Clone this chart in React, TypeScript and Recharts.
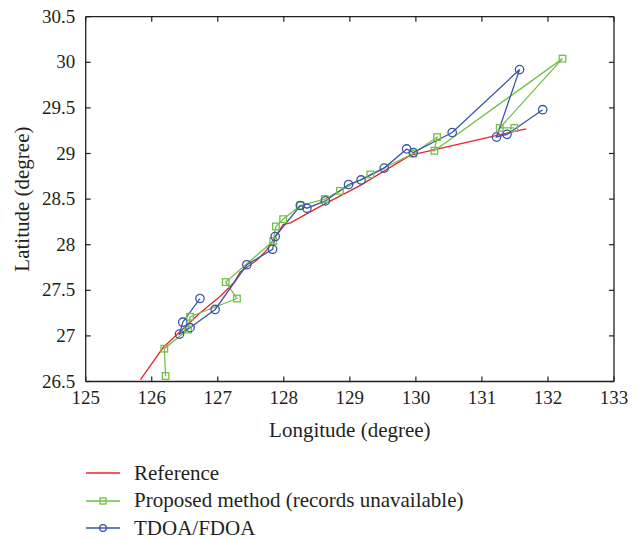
import React from 'react';
import { LineChart, Line, XAxis, YAxis, Legend } from 'recharts';

const lonTicks = [125, 126, 127, 128, 129, 130, 131, 132, 133];
const latTicks = [26.5, 27, 27.5, 28, 28.5, 29, 29.5, 30, 30.5];

const refLon = [125.83, 126.17, 126.73, 127.03, 127.24, 127.34, 127.59, 127.74, 127.99, 128.1, 128.55, 129.16, 129.91, 131.23, 131.67];
const refLat = [26.52, 26.87, 27.25, 27.43, 27.58, 27.7, 27.83, 27.94, 28.22, 28.24, 28.42, 28.65, 28.98, 29.2, 29.27];

const propLon = [126.21, 126.19, 126.55, 126.58, 127.29, 127.12, 127.84, 127.88, 127.99, 128.25, 128.62, 128.85, 129.31, 129.96, 130.32, 130.28, 132.22, 131.27, 131.49];
const propLat = [26.56, 26.86, 27.07, 27.21, 27.41, 27.59, 28.04, 28.2, 28.28, 28.43, 28.5, 28.59, 28.77, 29.0, 29.18, 29.03, 30.04, 29.28, 29.28];

const tdoaLon = [126.73, 126.47, 126.42, 126.58, 126.96, 127.44, 127.83, 127.87, 128.25, 128.35, 128.63, 128.98, 129.17, 129.52, 129.86, 129.96, 130.55, 131.57, 131.22, 131.38, 131.92];
const tdoaLat = [27.41, 27.15, 27.02, 27.09, 27.29, 27.78, 27.95, 28.09, 28.43, 28.4, 28.48, 28.66, 28.71, 28.84, 29.05, 29.01, 29.23, 29.92, 29.18, 29.21, 29.48];

const seriesNames = ['Reference', 'Proposed method (records unavailable)', 'TDOA/FDOA'];

const RED = '#ea2529';
const GREEN = '#72c04a';
const BLUE = '#3a55a6';
const INK = '#231f20';
const FONT = "'Liberation Serif', 'DejaVu Serif', serif";

const toPoints = (xs: number[], ys: number[]) => xs.map((x, i) => ({ lon: x, lat: ys[i] }));
const refData = toPoints(refLon, refLat);
const propData = toPoints(propLon, propLat);
const tdoaData = toPoints(tdoaLon, tdoaLat);

const TICK_LEN = 5;
const tickTextStyle = { fontFamily: FONT, fontSize: 19, fill: INK };

const BottomTick = (p: any) => (
  <g>
    <line x1={p.x} y1={p.y} x2={p.x} y2={p.y - TICK_LEN} stroke={INK} strokeWidth={1.2} />
    <text x={p.x} y={p.y + 22.5} textAnchor="middle" fontFamily={FONT} fontSize={19} fill={INK} style={tickTextStyle}>
      {String(p.payload.value)}
    </text>
  </g>
);
const TopTick = (p: any) => (
  <line x1={p.x} y1={p.y} x2={p.x} y2={p.y + TICK_LEN} stroke={INK} strokeWidth={1.2} />
);
const LeftTick = (p: any) => (
  <g>
    <line x1={p.x} y1={p.y} x2={p.x + TICK_LEN} y2={p.y} stroke={INK} strokeWidth={1.2} />
    <text x={p.x - 10.5} y={p.y + 6} textAnchor="end" fontFamily={FONT} fontSize={19} fill={INK} style={tickTextStyle}>
      {String(p.payload.value)}
    </text>
  </g>
);
const RightTick = (p: any) => (
  <line x1={p.x} y1={p.y} x2={p.x - TICK_LEN} y2={p.y} stroke={INK} strokeWidth={1.2} />
);

const SquareDot = (p: any) => (
  <rect key={`sq-${p.index}`} x={p.cx - 3.3} y={p.cy - 3.3} width={6.6} height={6.6} fill="none" stroke={GREEN} strokeWidth={1.3} />
);
const CircleDot = (p: any) => (
  <circle key={`ci-${p.index}`} cx={p.cx} cy={p.cy} r={4.2} fill="none" stroke={BLUE} strokeWidth={1.3} />
);

const legendRows = [
  { name: seriesNames[0], color: RED, marker: 'none' },
  { name: seriesNames[1], color: GREEN, marker: 'square' },
  { name: seriesNames[2], color: BLUE, marker: 'circle' },
];

const LegendContent = () => (
  <div style={{ fontFamily: FONT, fontSize: 21, color: INK }}>
    {legendRows.map((r) => (
      <div key={r.name} style={{ height: 27.5, display: 'flex', alignItems: 'center' }}>
        <svg width={48} height={20} style={{ display: 'block' }}>
          <line x1={0} y1={10} x2={34} y2={10} stroke={r.color} strokeWidth={1.3} />
          {r.marker === 'square' && <rect x={14} y={7} width={6} height={6} fill="none" stroke={r.color} strokeWidth={1.3} />}
          {r.marker === 'circle' && <circle cx={17} cy={10} r={3.3} fill="none" stroke={r.color} strokeWidth={1.3} />}
        </svg>
        <span style={{ whiteSpace: 'nowrap', lineHeight: '27px' }}>{r.name}</span>
      </div>
    ))}
  </div>
);

export default function App() {
  return (
    <div style={{ marginTop: -8, width: 627, height: 540, fontFamily: FONT }}>
      <LineChart
        width={627}
        height={540}
        margin={{ top: 15.7, right: 20, bottom: 98.5, left: 0 }}
        style={{ fontFamily: FONT }}
      >
        <XAxis
          xAxisId="b"
          dataKey="lon"
          type="number"
          domain={[125, 133]}
          ticks={lonTicks}
          allowDataOverflow
          height={60}
          tickSize={0}
          tickMargin={0}
          tick={<BottomTick />}
          axisLine={{ stroke: INK, strokeWidth: 1.3 }}
          tickLine={false}
          label={{ value: 'Longitude (degree)', position: 'insideBottom', offset: 4.5, style: { fontFamily: FONT, fontSize: 21, fill: INK } }}
        />
        <XAxis
          xAxisId="t"
          dataKey="lon"
          type="number"
          orientation="top"
          domain={[125, 133]}
          ticks={lonTicks}
          allowDataOverflow
          height={1}
          tickSize={0}
          tickMargin={0}
          tick={<TopTick />}
          axisLine={{ stroke: INK, strokeWidth: 1.3 }}
          tickLine={false}
        />
        <YAxis
          yAxisId="l"
          type="number"
          domain={[26.5, 30.5]}
          ticks={latTicks}
          allowDataOverflow
          width={77.7}
          tickSize={0}
          tickMargin={0}
          tick={<LeftTick />}
          axisLine={{ stroke: INK, strokeWidth: 1.3 }}
          tickLine={false}
          label={{ value: 'Latitude (degree)', angle: -90, position: 'insideLeft', offset: 14, style: { fontFamily: FONT, fontSize: 21, fill: INK, textAnchor: 'middle' } }}
        />
        <YAxis
          yAxisId="r"
          type="number"
          orientation="right"
          domain={[26.5, 30.5]}
          ticks={latTicks}
          allowDataOverflow
          width={1}
          tickSize={0}
          tickMargin={0}
          tick={<RightTick />}
          axisLine={{ stroke: INK, strokeWidth: 1.3 }}
          tickLine={false}
        />
        <Line
          xAxisId="b"
          yAxisId="l"
          data={refData}
          dataKey="lat"
          name={seriesNames[0]}
          stroke={RED}
          strokeWidth={1.3}
          dot={false}
          activeDot={false}
          isAnimationActive={false}
          type="linear"
        />
        <Line
          xAxisId="t"
          yAxisId="r"
          data={propData}
          dataKey="lat"
          name={seriesNames[1]}
          stroke={GREEN}
          strokeWidth={1.3}
          dot={SquareDot}
          activeDot={false}
          isAnimationActive={false}
          type="linear"
        />
        <Line
          xAxisId="b"
          yAxisId="l"
          data={tdoaData}
          dataKey="lat"
          name={seriesNames[2]}
          stroke={BLUE}
          strokeWidth={1.3}
          dot={CircleDot}
          activeDot={false}
          isAnimationActive={false}
          type="linear"
        />
        <Legend
          layout="vertical"
          align="center"
          verticalAlign="middle"
          content={<LegendContent />}
          wrapperStyle={{ left: 78, top: 459.5, width: 520, height: 85 }}
        />
      </LineChart>
    </div>
  );
}
